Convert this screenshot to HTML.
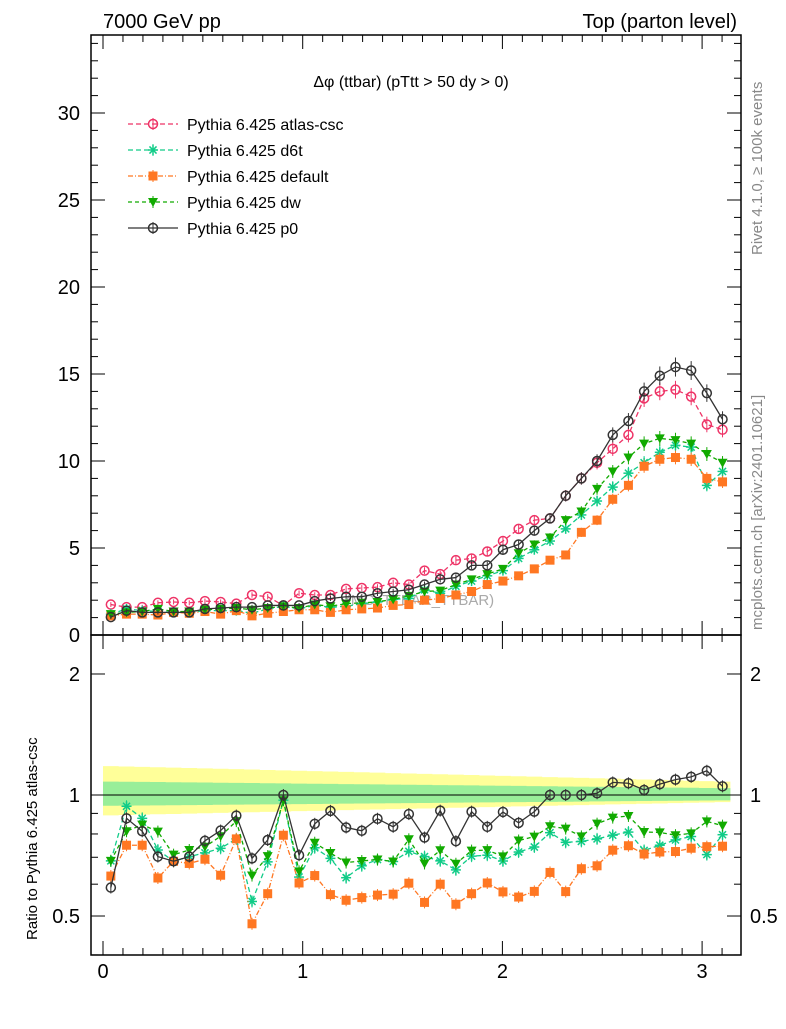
<!DOCTYPE html>
<html><head><meta charset="utf-8"><style>
body{margin:0;background:#fff;}
svg text{font-family:"Liberation Sans",sans-serif;}
</style></head><body>
<svg id="c" width="786" height="1024" xmlns="http://www.w3.org/2000/svg">
<text x="103" y="28" font-size="20">7000 GeV pp</text>
<text x="737" y="28" font-size="20" text-anchor="end">Top (parton level)</text>
<text x="411" y="87" font-size="16" text-anchor="middle">Δφ (ttbar) (pTtt &gt; 50 dy &gt; 0)</text>
<text transform="translate(762,255) rotate(-90)" font-size="15" fill="#888">Rivet 4.1.0, ≥ 100k events</text>
<text transform="translate(762,630) rotate(-90)" font-size="15" fill="#888">mcplots.cern.ch [arXiv:2401.10621]</text>
<text transform="translate(37,940) rotate(-90)" font-size="15">Ratio to Pythia 6.425 atlas-csc</text>
<text x="420" y="605" font-size="15" fill="#aaa" text-anchor="middle">(MC_TTBAR_TTBAR)</text>
<g id="g"></g>
</svg>
<script>
const atlas=[1.75,1.6,1.6,1.85,1.9,1.85,1.95,1.9,1.8,2.3,2.2,1.7,2.4,2.3,2.3,2.65,2.7,2.75,3.0,2.9,3.7,3.5,4.3,4.4,4.8,5.4,6.1,6.6,6.7,8.0,9.0,9.9,10.7,11.5,13.6,14.0,14.1,13.7,12.1,11.8];
const d6t=[1.2,1.5,1.4,1.35,1.3,1.3,1.4,1.4,1.4,1.25,1.5,1.65,1.5,1.7,1.6,1.65,1.8,1.9,2.05,2.1,2.6,2.4,2.8,3.1,3.4,3.7,4.4,4.9,5.4,6.1,6.9,7.7,8.5,9.3,9.9,10.5,10.9,10.8,8.6,9.4];
const def=[1.1,1.2,1.2,1.15,1.3,1.25,1.35,1.2,1.4,1.1,1.25,1.35,1.45,1.45,1.3,1.45,1.5,1.55,1.7,1.75,2.0,2.1,2.3,2.5,2.9,3.1,3.4,3.8,4.3,4.6,5.9,6.6,7.8,8.6,9.7,10.1,10.2,10.1,9.0,8.8];
const dw=[1.2,1.3,1.35,1.5,1.35,1.35,1.45,1.5,1.55,1.45,1.55,1.65,1.55,1.75,1.65,1.8,1.85,1.9,2.05,2.25,2.5,2.55,2.9,3.2,3.5,3.8,4.7,5.2,5.6,6.6,7.1,8.4,9.4,10.2,11.0,11.3,11.2,11.0,10.4,9.9];
const p0=[1.03,1.4,1.3,1.3,1.3,1.3,1.5,1.55,1.6,1.6,1.7,1.7,1.7,1.95,2.1,2.2,2.2,2.4,2.5,2.6,2.9,3.2,3.3,4.0,4.0,4.9,5.2,6.0,6.7,8.0,9.0,10.0,11.5,12.3,14.0,14.9,15.4,15.2,13.9,12.4];
const xTicks=[0,1,2,3];
const yTicks=[0,5,10,15,20,25,30];
const rTicks=[0.5,1,2];
const N=atlas.length, BW=Math.PI/N;
const NS='http://www.w3.org/2000/svg', g=document.getElementById('g');
const X=v=>103+199.7*v;
const Y=v=>635-17.4*v;
const R=v=>795-402*Math.log10(v);
function el(t,a,p){const e=document.createElementNS(NS,t);for(const k in a)e.setAttribute(k,a[k]);(p||g).appendChild(e);return e;}
// bands
const yel=[],grn=[];
let pY='',pG='',bY='',bG='';
for(let i=0;i<N;i++){const f=i/(N-1);const yu=1.18-0.10*f,yl=0.89+0.07*f,gu=1.08-0.04*f,gl=0.94+0.03*f;
 const x0=X(i*BW),x1=X((i+1)*BW);
 pY+=`${x0},${R(yu)} ${x1},${R(yu)} `;bY=`${x1},${R(yl)} ${x0},${R(yl)} `+bY;
 pG+=`${x0},${R(gu)} ${x1},${R(gu)} `;bG=`${x1},${R(gl)} ${x0},${R(gl)} `+bG;}
let e=el('polygon',{points:pY+bY,fill:'#ffff99'});


e=el('polygon',{points:pG+bG,fill:'#99ee99'});


el('line',{x1:91,x2:741,y1:R(1),y2:R(1),stroke:'#000','stroke-width':1});
// frames
e=el('rect',{x:91,y:35,width:650,height:600,fill:'none',stroke:'#000','stroke-width':1.5});


e=el('rect',{x:91,y:635,width:650,height:320,fill:'none',stroke:'#000','stroke-width':1.5});


// x ticks
for(let v=0;v<=3.15;v+=0.1){const big=Math.abs(v-Math.round(v))<0.01,x=X(v);const L=big?14:7;
 for(const [yb,yt] of [[635,35],[955,635]]){el('line',{x1:x,x2:x,y1:yb,y2:yb-L,stroke:'#000'});el('line',{x1:x,x2:x,y1:yt,y2:yt+L,stroke:'#000'});}}
xTicks.forEach(v=>{const t=el('text',{x:X(v),y:978,'font-size':20,'text-anchor':'middle'});t.textContent=v;
 
 });
for(let v=0;v<=34;v++){const big=v%5==0,y=Y(v),L=big?14:7;el('line',{x1:91,x2:91+L,y1:y,y2:y,stroke:'#000'});el('line',{x1:741,x2:741-L,y1:y,y2:y,stroke:'#000'});}
yTicks.forEach(v=>{const t=el('text',{x:80,y:Y(v)+7,'font-size':20,'text-anchor':'end'});t.textContent=v;
 
 });
[0.4,0.5,0.6,0.7,0.8,0.9,1,2].forEach(v=>{const big=(v==0.5||v==1||v==2),y=R(v),L=big?14:7;el('line',{x1:91,x2:91+L,y1:y,y2:y,stroke:'#000'});el('line',{x1:741,x2:741-L,y1:y,y2:y,stroke:'#000'});});
rTicks.forEach(v=>{for(const [x,a] of [[80,'end'],[750,'start']]){const t=el('text',{x:x,y:R(v)+7,'font-size':20,'text-anchor':a});t.textContent=v;
 
 }});
// series
const series=[
 {n:'atlas-csc',d:atlas,c:'#ee3366',dash:'5,3',m:'oc'},
 {n:'d6t',d:d6t,c:'#11cc88',dash:'5,3',m:'st'},
 {n:'default',d:def,c:'#ff7722',dash:'5,2,1,2',m:'sq'},
 {n:'dw',d:dw,c:'#11aa00',dash:'4,3',m:'tr'},
 {n:'p0',d:p0,c:'#333333',dash:'',m:'oc'}];
function marker(m,x,y,c,p){
 if(m=='oc')el('circle',{cx:x,cy:y,r:4.5,fill:'none',stroke:c,'stroke-width':1.5},p);
 else if(m=='sq')el('rect',{x:x-4.5,y:y-4.5,width:9,height:9,fill:c},p);
 else if(m=='tr')el('polygon',{points:`${x-5},${y-4} ${x+5},${y-4} ${x},${y+5}`,fill:c},p);
 else{for(let a=0;a<4;a++){const t=a*Math.PI/4;el('line',{x1:x-5*Math.cos(t),y1:y-5*Math.sin(t),x2:x+5*Math.cos(t),y2:y+5*Math.sin(t),stroke:c,'stroke-width':1.5},p);}}
}
series.forEach((s,si)=>{
 const grp=el('g',{});
 
 
 const pts=s.d.map((v,i)=>[X((i+0.5)*BW),Y(v)]);
 el('polyline',{points:pts.map(p=>p.join(',')).join(' '),fill:'none',stroke:s.c,'stroke-width':1.3,'stroke-dasharray':s.dash},grp);
 const rp=s.d.map((v,i)=>[X((i+0.5)*BW),R(v/atlas[i])]);
 if(si>0)el('polyline',{points:rp.map(p=>p.join(',')).join(' '),fill:'none',stroke:s.c,'stroke-width':1.3,'stroke-dasharray':s.dash},grp);
 pts.forEach((p,i)=>{const er=0.03*s.d[i]*17.4+1.5;el('line',{x1:p[0],x2:p[0],y1:p[1]-er,y2:p[1]+er,stroke:s.c},grp);marker(s.m,p[0],p[1],s.c,grp);
  if(si>0){const q=rp[i];const e2=6;el('line',{x1:q[0],x2:q[0],y1:q[1]-e2,y2:q[1]+e2,stroke:s.c},grp);marker(s.m,q[0],q[1],s.c,grp);}});
 // legend
 const ly=124+26*si;
 const lg=el('g',{});
 
 
 el('line',{x1:128,x2:178,y1:ly,y2:ly,stroke:s.c,'stroke-width':1.3,'stroke-dasharray':s.dash},lg);
 el('line',{x1:153,x2:153,y1:ly-6,y2:ly+6,stroke:s.c},lg);
 marker(s.m,153,ly,s.c,lg);
 const t=el('text',{x:187,y:ly+6,'font-size':16},lg);t.textContent='Pythia 6.425 '+s.n;
});
</script>
</body></html>
